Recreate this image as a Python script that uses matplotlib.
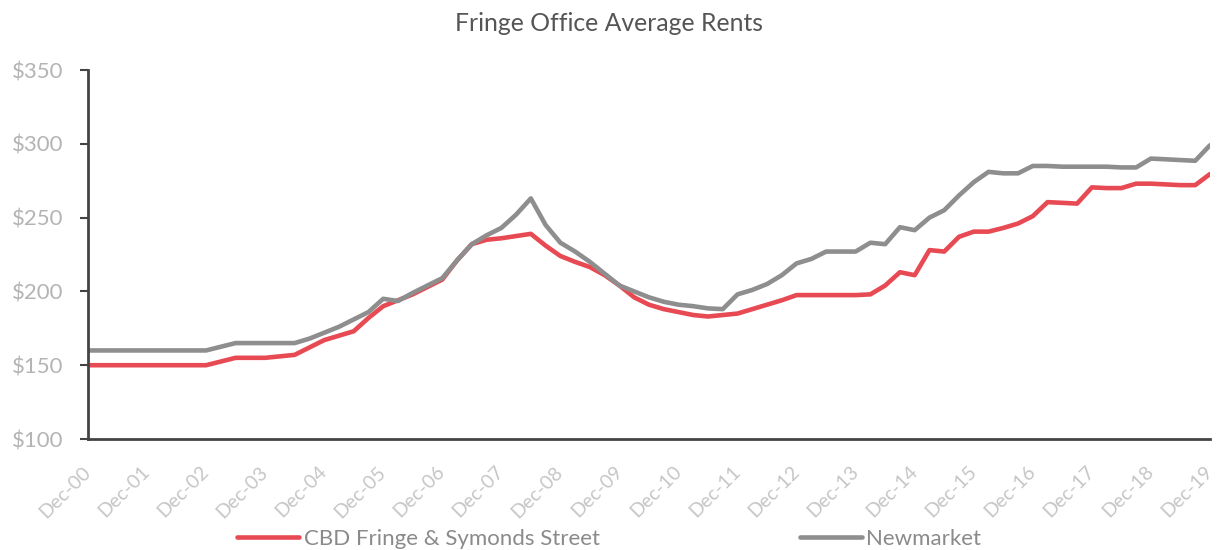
import matplotlib
matplotlib.use("Agg")
import matplotlib.pyplot as plt
import matplotlib.transforms as mtransforms
import numpy as np

tick_labels = ["Dec-%02d" % y for y in range(0, 20)]

cbd_fringe = [150, 150, 150, 150, 150, 150, 150, 150, 150,
              152.5, 155, 155, 155, 156, 157, 162, 167, 170, 173, 182,
              190, 194, 198, 203, 208, 221, 232, 235, 236, 237.5,
              239, 231, 224, 220, 216.5, 211, 204, 196, 191, 188,
              186, 184, 183, 184, 185, 188, 191, 194, 197.5, 197.5,
              197.5, 197.5, 197.5, 198, 204, 213, 211, 228, 227, 237,
              240.5, 240.5, 243, 246, 251, 260.5, 260, 259.5, 270.5, 270,
              270, 273, 273, 272.5, 272, 272, 279.5]

newmarket = [160, 160, 160, 160, 160, 160, 160, 160, 160,
             162.5, 165, 165, 165, 165, 165, 168, 172, 176, 181, 186,
             195, 193.5, 199, 204, 209, 221, 232, 238, 243, 252,
             263, 245, 233, 227, 220, 212, 204, 200, 196, 193,
             191, 190, 188.5, 188, 198, 201, 205, 211, 219, 222,
             227, 227, 227, 233, 232, 243.5, 241.5, 250, 255, 265,
             274, 281, 280, 280, 285, 285, 284.5, 284.5, 284.5, 284.5,
             284, 284, 290, 289.5, 289, 288.5, 299]

series_names = ["CBD Fringe & Symonds Street", "Newmarket"]
colors = ["#E84A53", "#8E8E8E"]

plt.rcParams['font.family'] = ['Lato', 'DejaVu Sans']

fig = plt.figure(figsize=(12.18, 5.5), dpi=100)
ax = fig.add_axes([0.0722, 0.2018, 0.9212, 0.6709])

x = np.arange(len(cbd_fringe))
ax.plot(x, cbd_fringe, color=colors[0], lw=3.3, label=series_names[0], solid_capstyle='round')
ax.plot(x, newmarket, color=colors[1], lw=3.3, label=series_names[1], solid_capstyle='round')

ax.set_xlim(0, len(cbd_fringe) - 1)
ax.set_ylim(100, 350)

for s in ['top', 'right']:
    ax.spines[s].set_visible(False)
for s in ['left', 'bottom']:
    ax.spines[s].set_color("#444444")
    ax.spines[s].set_linewidth(2)
ax.tick_params(axis='y', direction='out', length=6, width=1.5, color="#444444", pad=12)
ax.tick_params(axis='x', length=0, pad=0)

ax.set_yticks([100, 150, 200, 250, 300, 350])
ax.set_yticklabels(["$%d" % v for v in [100, 150, 200, 250, 300, 350]],
                   color="#B4B4B4", fontsize=16)
ax.set_xticks(np.arange(0, len(cbd_fringe), 4))
ax.set_xticklabels(tick_labels, rotation=45, ha='right', va='center',
                   rotation_mode='anchor', color="#C6C6C6", fontsize=14)
offset = mtransforms.ScaledTranslation(0, -30 / 100, fig.dpi_scale_trans)
for lbl in ax.get_xticklabels():
    lbl.set_transform(lbl.get_transform() + offset)

fig.suptitle("Fringe Office Average Rents", y=0.978, fontsize=17.8, color="#555555")

fig.legend(loc='lower center', bbox_to_anchor=(0.5, -0.035), ncol=2, frameon=False,
           fontsize=16, labelcolor="#8A8A8A", columnspacing=9, handlelength=2.8,
           handletextpad=0.2)

fig.savefig("out.png", dpi=100)
